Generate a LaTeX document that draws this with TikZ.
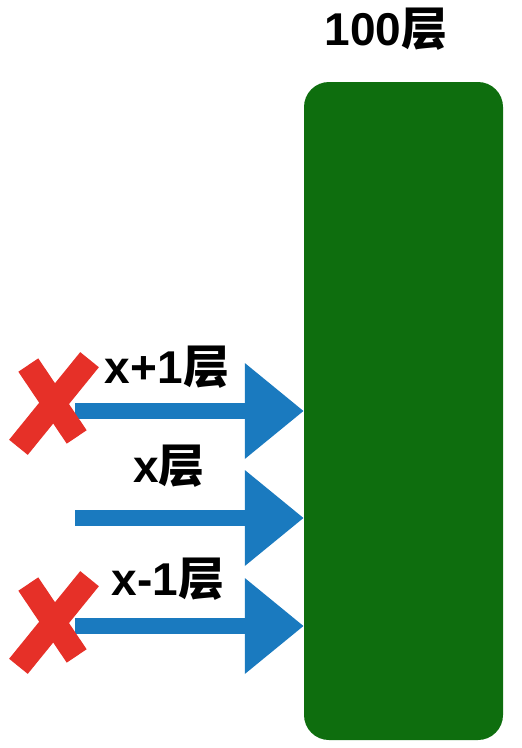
\documentclass[tikz,border=0pt]{standalone}
\usepackage{fontspec}
\setmainfont{Liberation Sans}
\newfontfamily\cjk{Noto Sans CJK SC}
\usetikzlibrary{arrows.meta}
\definecolor{bargreen}{RGB}{14,110,14}
\definecolor{arrowblue}{RGB}{26,122,191}
\definecolor{crossred}{RGB}{230,48,40}
\tikzset{
  lbl/.style={anchor=base, font=\fontsize{46}{50}\selectfont\bfseries, inner sep=0pt},
  bararrow/.style={draw=arrowblue, line width=16pt, -{Triangle[length=59pt,width=92pt]}},
  crossline/.style={draw=crossred, line width=24pt, line cap=rect, line join=round}
}
\begin{document}
\begin{tikzpicture}[x=1pt,y=-1pt]
\useasboundingbox (0,0) rectangle (522,748);
\node[fill=bargreen, rounded corners=25pt, minimum width=199pt, minimum height=658pt, inner sep=0pt] (bar) at (403.5,411) {};
\node[lbl] (top) at (386,45) {100{\cjk 层}};
\node[lbl] (l1) at (167,383) {x+1{\cjk 层}};
\node[lbl] (l2) at (169,482) {x{\cjk 层}};
\node[lbl] (l3) at (168,595) {x-1{\cjk 层}};
\coordinate (s1) at (75,411);
\coordinate (s2) at (75,518);
\coordinate (s3) at (75,626);
\draw[bararrow] (s1) -- (bar.west |- s1);
\draw[bararrow] (s2) -- (bar.west |- s2);
\draw[bararrow] (s3) -- (bar.west |- s3);
\foreach \dy in {0,219}{
  \begin{scope}[yshift=-\dy pt]
    \draw[crossline] (35,375) -- (70,427);
    \draw[crossline] (82,369) -- (26,438);
  \end{scope}
}
\end{tikzpicture}
\end{document}
